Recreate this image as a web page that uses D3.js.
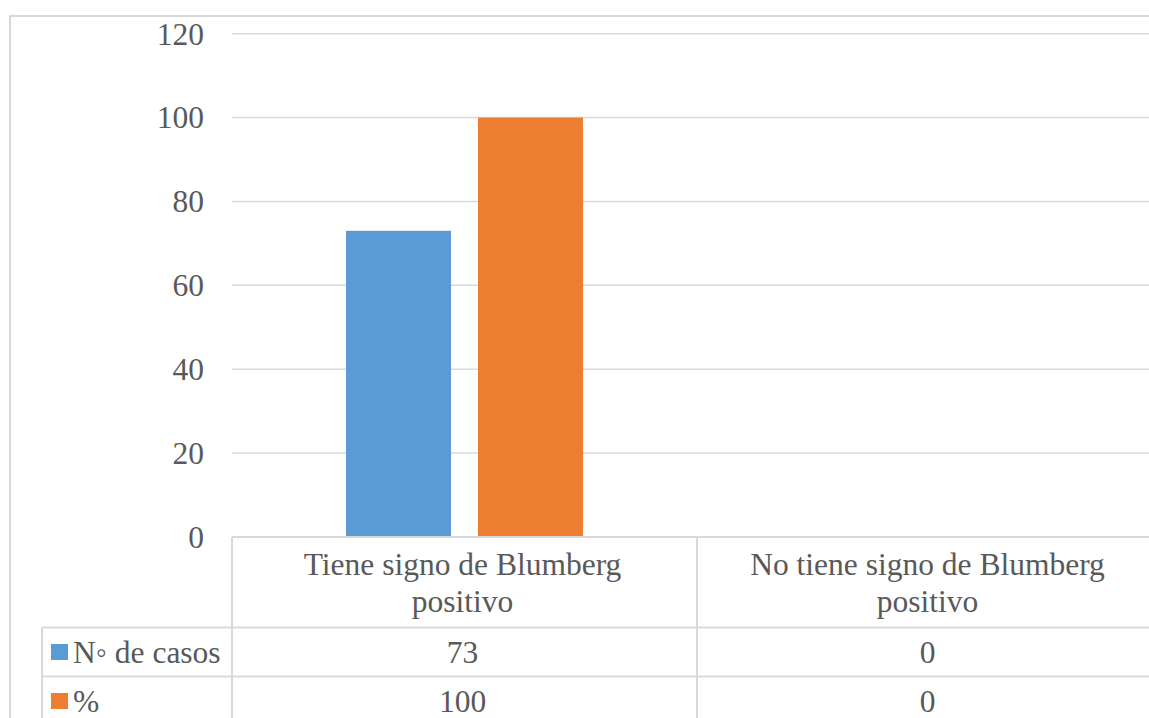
<!DOCTYPE html>
<html><head><meta charset="utf-8">
<script src="https://cdn.jsdelivr.net/npm/d3@7/dist/d3.min.js"></script>
<style>
html,body{margin:0;padding:0;background:#fff;overflow:hidden;}
svg{display:block;}
</style></head>
<body>
<svg id="c" width="1149" height="718"></svg>
<script>
const categories = [["Tiene signo de Blumberg","positivo"],["No tiene signo de Blumberg","positivo"]];
const seriesNames = ["N\u25E6 de casos","%"];
const casos = [73, 0];
const porcentaje = [100, 0];
const yTicks = [0,20,40,60,80,100,120];
const colors = ["#5b9bd5","#ed7d31"];
const seriesValues = [casos, porcentaje];

const svg = d3.select("#c");
const grid = "#d9d9d9";
const fs = 31.5;
const FONT = "Liberation Serif";
const TXT = "#595959";
function styleText(sel){ return sel.style("font-family",FONT).style("font-size",fs+"px").style("fill",TXT); }

// outer chart border
svg.append("rect").attr("x",10).attr("y",16).attr("width",1160).attr("height",760)
  .attr("fill","none").attr("stroke",grid).attr("stroke-width",2);

const plotLeft = 232, plotRight = 1162;
const y = d3.scaleLinear().domain([0,120]).range([537,33.7]);
const x0 = d3.scaleBand().domain(d3.range(categories.length)).range([plotLeft, plotRight]).padding(0);
const x1 = d3.scaleBand().domain(d3.range(seriesNames.length)).range([0, x0.bandwidth()])
  .paddingInner(0.2045).paddingOuter(0.8636);

// gridlines
svg.append("g").selectAll("line").data(yTicks.filter(d=>d>0)).join("line")
  .attr("x1",plotLeft).attr("x2",1149)
  .attr("y1",d=>y(d)).attr("y2",d=>y(d))
  .attr("stroke",grid).attr("stroke-width",1.5);

// y-axis labels
const yAxis = d3.axisLeft(y).tickValues(yTicks).tickSize(0).tickPadding(0).tickFormat(d3.format("d"));
const ga = svg.append("g").attr("transform","translate(204,0)").call(yAxis);
ga.select(".domain").remove();
styleText(ga.selectAll("text")).attr("dy","0.33em");

// bars
const groups = svg.append("g").selectAll("g").data(categories.map((c,i)=>i)).join("g")
  .attr("transform",i=>`translate(${x0(i)},0)`);
groups.selectAll("rect").data(i=>seriesValues.map((v,s)=>({s, v:v[i]}))).join("rect")
  .attr("x",d=>x1(d.s)).attr("width",x1.bandwidth())
  .attr("y",d=>y(d.v)).attr("height",d=>y(0)-y(d.v))
  .attr("fill",d=>colors[d.s]);

// data table
const rowTop = [537, 627.5, 676.5, 725.5];
const legendLeft = 42;
const tbl = svg.append("g");
tbl.append("line").attr("x1",plotLeft).attr("x2",1149).attr("y1",y(0)).attr("y2",y(0)).attr("stroke",grid).attr("stroke-width",2);
[rowTop[1], rowTop[2]].forEach(yy=>{
  tbl.append("line").attr("x1",legendLeft).attr("x2",1149).attr("y1",yy).attr("y2",yy).attr("stroke",grid).attr("stroke-width",2);
});
d3.range(categories.length).forEach(i=>{
  tbl.append("line").attr("x1",x0(i)).attr("x2",x0(i)).attr("y1",y(0)).attr("y2",718).attr("stroke",grid).attr("stroke-width",2);
});
tbl.append("line").attr("x1",legendLeft).attr("x2",legendLeft).attr("y1",rowTop[1]).attr("y2",718).attr("stroke",grid).attr("stroke-width",2);

// category labels
categories.forEach((lines,i)=>{
  const cx = x0(i)+x0.bandwidth()/2 - 2;
  const t = styleText(tbl.append("text")).attr("x",cx).attr("y",575).attr("text-anchor","middle");
  lines.forEach((ln,k)=>t.append("tspan").attr("x",cx).attr("dy",k===0?0:36.7).text(ln));
});

// series rows
seriesNames.forEach((name,s)=>{
  const top = rowTop[s+1], bot = rowTop[s+2];
  const mid = (top+bot)/2;
  tbl.append("rect").attr("x",51).attr("y",mid-8).attr("width",17).attr("height",16).attr("fill",colors[s]);
  styleText(tbl.append("text")).attr("x",73).attr("y",mid).attr("dy","0.34em").text(name);
  seriesValues[s].forEach((v,i)=>{
    styleText(tbl.append("text")).attr("x",x0(i)+x0.bandwidth()/2-2).attr("y",mid).attr("dy","0.34em")
      .attr("text-anchor","middle").text(v);
  });
});
</script>
</body></html>
